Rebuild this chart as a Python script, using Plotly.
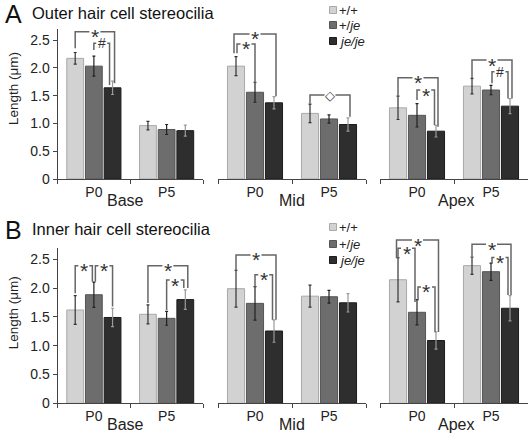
import plotly.graph_objects as go

# ---------------- data ----------------
regions = ["Base", "Mid", "Apex"]
ages = ["P0", "P5"]
genotypes = ["+/+", "+/je", "je/je"]
legend_labels = ["+/+", "+/<i>je</i>", "<i>je/je</i>"]
ytick_vals = [0, 0.5, 1.0, 1.5, 2.0, 2.5]
ytick_text = ["0", "0.5", "1.0", "1.5", "2.0", "2.5"]
panel_letters = ["A", "B"]
panel_titles = ["Outer hair cell stereocilia", "Inner hair cell stereocilia"]
y_title = "Length (μm)"

# order of values: Base P0, Base P5, Mid P0, Mid P5, Apex P0, Apex P5
ohc_wt = [2.17, 0.96, 2.03, 1.18, 1.28, 1.67]
ohc_wt_err = [0.105, 0.075, 0.17, 0.165, 0.21, 0.14]
ohc_het = [2.03, 0.89, 1.56, 1.08, 1.145, 1.60]
ohc_het_err = [0.18, 0.09, 0.18, 0.075, 0.21, 0.085]
ohc_mut = [1.64, 0.87, 1.37, 0.98, 0.86, 1.31]
ohc_mut_err = [0.12, 0.10, 0.11, 0.12, 0.105, 0.135]

ihc_wt = [1.62, 1.545, 1.99, 1.86, 2.145, 2.39]
ihc_wt_err = [0.25, 0.165, 0.32, 0.19, 0.385, 0.15]
ihc_het = [1.885, 1.475, 1.735, 1.85, 1.58, 2.285]
ihc_het_err = [0.22, 0.12, 0.29, 0.11, 0.22, 0.15]
ihc_mut = [1.49, 1.80, 1.255, 1.745, 1.09, 1.65]
ihc_mut_err = [0.16, 0.17, 0.195, 0.16, 0.15, 0.22]

# significance brackets:
# (panel, region, age, bar_i, bar_j, level, leg_bottom_i, leg_bottom_j, symbol)
brackets = [
    (0, 0, 0, 0, 2, 2.65, 2.35, 1.72, "*"),
    (0, 0, 0, 1, 2, 2.44, 2.32, 1.69, "#"),
    (0, 1, 0, 0, 2, 2.61, 2.26, 1.49, "*"),
    (0, 1, 0, 0, 1, 2.43, 2.26, 1.72, "*"),
    (0, 1, 1, 0, 2, 1.51, 1.36, 1.12, "◇"),
    (0, 2, 0, 0, 2, 1.82, 1.48, 0.94, "*"),
    (0, 2, 0, 1, 2, 1.60, 1.42, 0.97, "*"),
    (0, 2, 1, 0, 2, 2.14, 1.81, 1.45, "*"),
    (0, 2, 1, 1, 2, 1.93, 1.72, 1.45, "#"),
    (1, 0, 0, 0, 1, 2.39, 1.91, 2.11, "*"),
    (1, 0, 0, 1, 2, 2.39, 2.11, 1.68, "*"),
    (1, 0, 1, 0, 2, 2.39, 1.74, 2.00, "*"),
    (1, 0, 1, 1, 2, 2.14, 1.62, 2.00, "*"),
    (1, 1, 0, 0, 2, 2.575, 2.31, 1.45, "*"),
    (1, 1, 0, 1, 2, 2.23, 2.01, 1.45, "*"),
    (1, 2, 0, 0, 2, 2.835, 2.52, 1.24, "*"),
    (1, 2, 0, 0, 1, 2.69, 2.52, 1.76, "*"),
    (1, 2, 0, 1, 2, 2.02, 1.79, 1.24, "*"),
    (1, 2, 1, 0, 2, 2.76, 2.55, 1.88, "*"),
    (1, 2, 1, 1, 2, 2.53, 2.43, 1.88, "*"),
]
# small horizontal nudges (px) of bracket legs, so that shared legs don't overlap
bracket_nudges = [
    (0, 2), (0, -3), (-2, 2), (1, 0), (0, 2), (0, 2), (0, -1.5), (0, 2), (1, -2),
    (0, -1.5), (1.5, 0), (0, 2.5), (0, -1.5), (0, 2), (0, -1.5),
    (-1.5, 2.5), (0, -2), (1, -1), (0, 1), (1, -2),
]

panel_values = [
    [(ohc_wt, ohc_wt_err), (ohc_het, ohc_het_err), (ohc_mut, ohc_mut_err)],
    [(ihc_wt, ihc_wt_err), (ihc_het, ihc_het_err), (ihc_mut, ihc_mut_err)],
]

# ---------------- style / layout ----------------
W, H = 532, 437
FONT = "Liberation Sans, Arial, Helvetica, sans-serif"
fills = ["#d2d2d2", "#6d6d6d", "#2e2e2e"]
outlines = ["#a9a9a9", "#555555", "#1c1c1c"]
err_colors = ["#333333", "#222222", "#9a9a9a"]
AXC = "#444444"
BRC = "#666666"

BARGAP = 0.23
YMAX = 2.7
x_dom_px = [(57.5, 203.0), (218.0, 366.0), (380.0, 528.0)]
y_zero_px = [179.0, 403.3]
y_unit_px = [55.6, 57.6]
group_label_x_px = [125, 292, 456]
legend_y_px = [[10, 25, 41], [227, 244, 260]]
legend_x_px = 333
title_y_px = [14, 230]


def y_dom(p):
    z = y_zero_px[p]
    top = z - YMAX * y_unit_px[p]
    return [1 - z / H, 1 - top / H]


def bar_x_paper(r, a, k, nudge):
    x0, x1 = x_dom_px[r]
    catw = (x1 - x0) / 2
    slot = (1 - BARGAP) / 3
    px = x0 + (a + 0.5) * catw + (k - 1) * slot * catw + nudge
    return px / W


def val_y_paper(p, v):
    d0, d1 = y_dom(p)
    return d0 + v / YMAX * (d1 - d0)


fig = go.Figure()
layout = dict(
    width=W, height=H,
    margin=dict(l=0, r=0, t=0, b=0, pad=0, autoexpand=False),
    paper_bgcolor="white", plot_bgcolor="white",
    barmode="group", bargap=BARGAP, bargroupgap=0.1,
    showlegend=False,
    font=dict(family=FONT, size=14, color="#222222"),
)

for p in range(2):
    for r in range(3):
        n = p * 3 + r + 1
        xa = "x" if n == 1 else f"x{n}"
        ya = "y" if n == 1 else f"y{n}"
        for k in range(3):
            vals, errs = panel_values[p][k]
            fig.add_trace(go.Bar(
                x=ages, y=vals[2 * r:2 * r + 2],
                name=genotypes[k],
                marker=dict(color=fills[k], line=dict(color=outlines[k], width=1)),
                error_y=dict(type="data", array=errs[2 * r:2 * r + 2], visible=True,
                             color=err_colors[k], thickness=1.2, width=1.5),
                xaxis=xa, yaxis=ya, showlegend=False, hoverinfo="skip",
            ))
        x0, x1 = x_dom_px[r]
        layout["xaxis" if n == 1 else f"xaxis{n}"] = dict(
            domain=[x0 / W, x1 / W], anchor=ya, type="category", automargin=False,
            range=[-0.5, 1.5], showline=True, linecolor=AXC, linewidth=1,
            ticks="outside", tickson="boundaries", ticklen=4, tickcolor=AXC,
            tickfont=dict(size=14), showgrid=False, zeroline=False, fixedrange=True,
        )
        yax = dict(domain=y_dom(p), anchor=xa, range=[0, YMAX], fixedrange=True,
                   showgrid=False, zeroline=False, automargin=False)
        if r == 0:
            yax.update(showline=True, linecolor=AXC, linewidth=1, ticks="outside",
                       ticklen=4, tickcolor=AXC, tickvals=ytick_vals,
                       ticktext=ytick_text, tickfont=dict(size=14))
        else:
            yax.update(visible=False)
        layout["yaxis" if n == 1 else f"yaxis{n}"] = yax

fig.update_layout(**layout)

shapes = []
annotations = []

# significance brackets
for (p, r, a, i, j, lev, bi, bj, sym), (ni, nj) in zip(brackets, bracket_nudges):
    xi = bar_x_paper(r, a, i, ni)
    xj = bar_x_paper(r, a, j, nj)
    yl = val_y_paper(p, lev)
    path = (f"M {xi},{val_y_paper(p, bi)} L {xi},{yl} L {xj},{yl} "
            f"L {xj},{val_y_paper(p, bj)}")
    shapes.append(dict(type="path", path=path, xref="paper", yref="paper",
                       line=dict(color=BRC, width=1.5)))
    size = {"*": 21, "#": 14, "◇": 13}[sym]
    yshift = {"*": -5, "#": 0, "◇": 0}[sym]
    annotations.append(dict(
        x=(xi + xj) / 2, y=yl, xref="paper", yref="paper", text=sym,
        showarrow=False, xanchor="center", yanchor="middle", yshift=yshift,
        font=dict(size=size, color="#333333"), bgcolor="rgba(0,0,0,0)", borderpad=0,
    ))
    # white gap in the line behind the symbol
    gx = 5.5 / W
    shapes.append(dict(type="line", xref="paper", yref="paper",
                       x0=(xi + xj) / 2 - gx, x1=(xi + xj) / 2 + gx, y0=yl, y1=yl,
                       line=dict(color="white", width=3)))

for p in range(2):
    # panel letter and title
    annotations.append(dict(x=3 / W, y=1 - title_y_px[p] / H, xref="paper", yref="paper",
                            text=panel_letters[p], showarrow=False, xanchor="left",
                            yanchor="middle", font=dict(size=25, color="#111111")))
    annotations.append(dict(x=30 / W, y=1 - (title_y_px[p] - 1) / H, xref="paper",
                            yref="paper", text=panel_titles[p], showarrow=False,
                            xanchor="left", yanchor="middle",
                            font=dict(size=16.5, color="#111111")))
    # y axis title
    annotations.append(dict(x=13 / W, y=1 - (y_zero_px[p] - 90) / H, xref="paper",
                            yref="paper", text=y_title, showarrow=False, textangle=-90,
                            xanchor="center", yanchor="middle", font=dict(size=13.5)))
    # region labels
    for r in range(3):
        annotations.append(dict(x=group_label_x_px[r] / W,
                                y=1 - (y_zero_px[p] + 21) / H, xref="paper",
                                yref="paper", text=regions[r], showarrow=False,
                                xanchor="center", yanchor="middle",
                                font=dict(size=16)))
    # legend
    for k in range(3):
        cy = legend_y_px[p][k]
        shapes.append(dict(type="rect", xref="paper", yref="paper",
                           x0=(legend_x_px - 3.5) / W, x1=(legend_x_px + 3.5) / W,
                           y0=1 - (cy + 3.5) / H, y1=1 - (cy - 3.5) / H,
                           fillcolor=fills[k], line=dict(color=outlines[k], width=1)))
        annotations.append(dict(x=(legend_x_px + 4) / W, y=1 - cy / H, xref="paper",
                                yref="paper", text=legend_labels[k], showarrow=False,
                                xanchor="left", yanchor="middle", font=dict(size=13)))

fig.update_layout(shapes=shapes, annotations=annotations)
fig.write_html(
    "out.html",
    config={"displayModeBar": False, "staticPlot": True},
    post_script="document.body.style.margin='0';document.body.style.overflow='hidden';",
)
